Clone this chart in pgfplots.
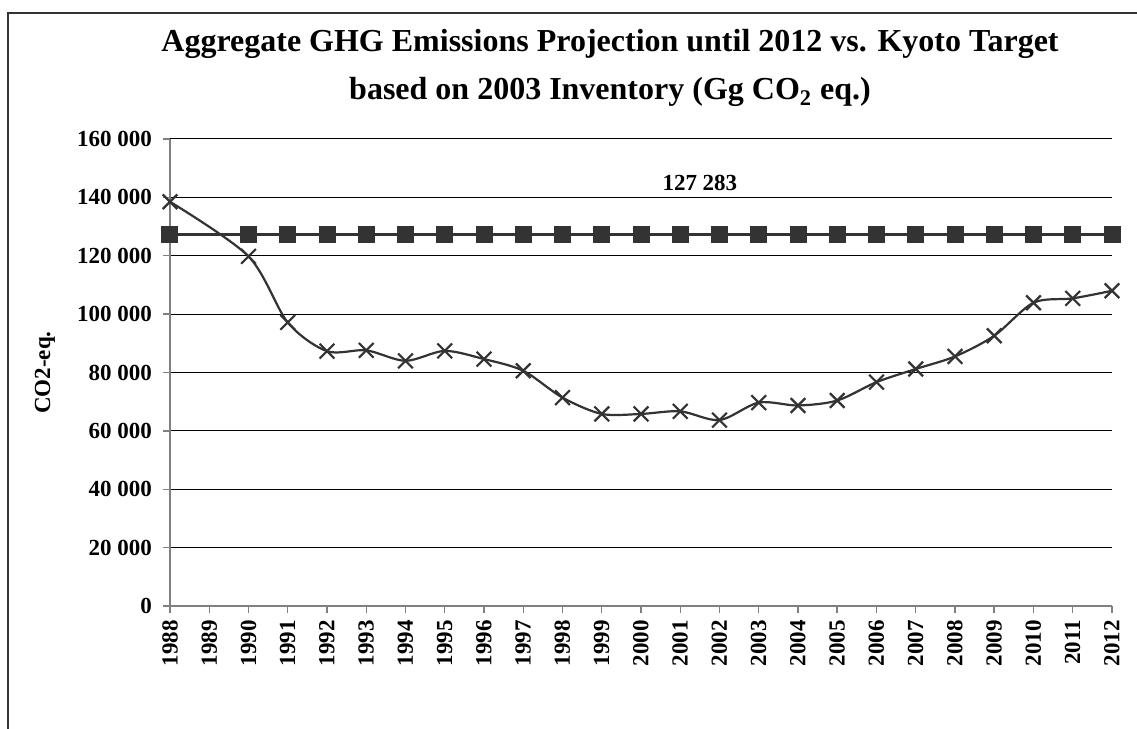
\documentclass[border=0pt]{standalone}
\usepackage{pgfplots}
\pgfplotsset{compat=1.18}
\usepackage{fontspec}
\setmainfont{Liberation Serif}
\definecolor{ser}{HTML}{333333}
\definecolor{axgray}{HTML}{808080}
\begin{document}
\begin{tikzpicture}
\useasboundingbox (0pt,0pt) rectangle (568.5pt,364.5pt);
\draw[line width=0.8pt, black!80] (4pt,0pt) -- (4pt,358pt) -- (568.5pt,358pt);
\node[font=\fontsize{16}{19}\selectfont\bfseries, anchor=base] at (305pt,338.5pt) {Aggregate GHG Emissions Projection until 2012 vs. Kyoto Target};
\node[font=\fontsize{16}{19}\selectfont\bfseries, anchor=base] at (305pt,314.5pt) {based on 2003 Inventory (Gg CO\textsubscript{2} eq.)};
\begin{axis}[
  at={(85pt,61.5pt)}, anchor=south west,
  scale only axis, width=471pt, height=233.5pt,
  xmin=1988, xmax=2012, ymin=0, ymax=160000,
  axis lines*=left,
  axis line style={axgray, line width=0.7pt},
  xtick={1988,1989,...,2012},
  ytick={0,20000,...,160000},
  scaled y ticks=false,
  tick align=outside, major tick length=3.5pt,
  tick style={axgray, line width=0.7pt},
  ymajorgrids, grid style={black, line width=0.5pt},
  /pgf/number format/assume math mode=true,
  yticklabel style={font=\fontsize{11.5}{13}\selectfont\bfseries, xshift=-2pt,
    /pgf/number format/fixed, /pgf/number format/precision=0, /pgf/number format/1000 sep={\ }},
  xticklabel style={font=\fontsize{11.5}{13}\selectfont\bfseries, rotate=90, anchor=east, /pgf/number format/1000 sep={}},
  ylabel={CO2-eq.},
  ylabel style={font=\fontsize{11.5}{13}\selectfont\bfseries, at={(axis description cs:-0.1327,0.5)}, anchor=center},
  clip=false,
]
\addplot[ser, line width=1.1pt, mark=square*, mark size=3.7pt, mark options={fill=ser, draw=ser},
  mark indices={1,3,4,5,6,7,8,9,10,11,12,13,14,15,16,17,18,19,20,21,22,23,24,25}]
coordinates {
(1988,127283)(1989,127283)(1990,127283)(1991,127283)(1992,127283)(1993,127283)(1994,127283)
(1995,127283)(1996,127283)(1997,127283)(1998,127283)(1999,127283)(2000,127283)(2001,127283)
(2002,127283)(2003,127283)(2004,127283)(2005,127283)(2006,127283)(2007,127283)(2008,127283)
(2009,127283)(2010,127283)(2011,127283)(2012,127283)};
\addplot[ser, line width=1.1pt, smooth, tension=0.5, mark=x, mark size=5.2pt, mark options={line width=1.1pt}]
coordinates {
(1988,138500)(1990,119800)(1991,97150)(1992,87300)(1993,87600)(1994,84000)(1995,87400)
(1996,84600)(1997,80600)(1998,71400)(1999,65800)(2000,65800)(2001,66700)(2002,63700)
(2003,69700)(2004,68700)(2005,70400)(2006,76700)(2007,81200)(2008,85500)(2009,92600)
(2010,103900)(2011,105400)(2012,108000)};
\node[font=\fontsize{11.5}{13}\selectfont\bfseries] at (axis cs:2001.5,144900) {127 283};
\end{axis}
\end{tikzpicture}
\end{document}
